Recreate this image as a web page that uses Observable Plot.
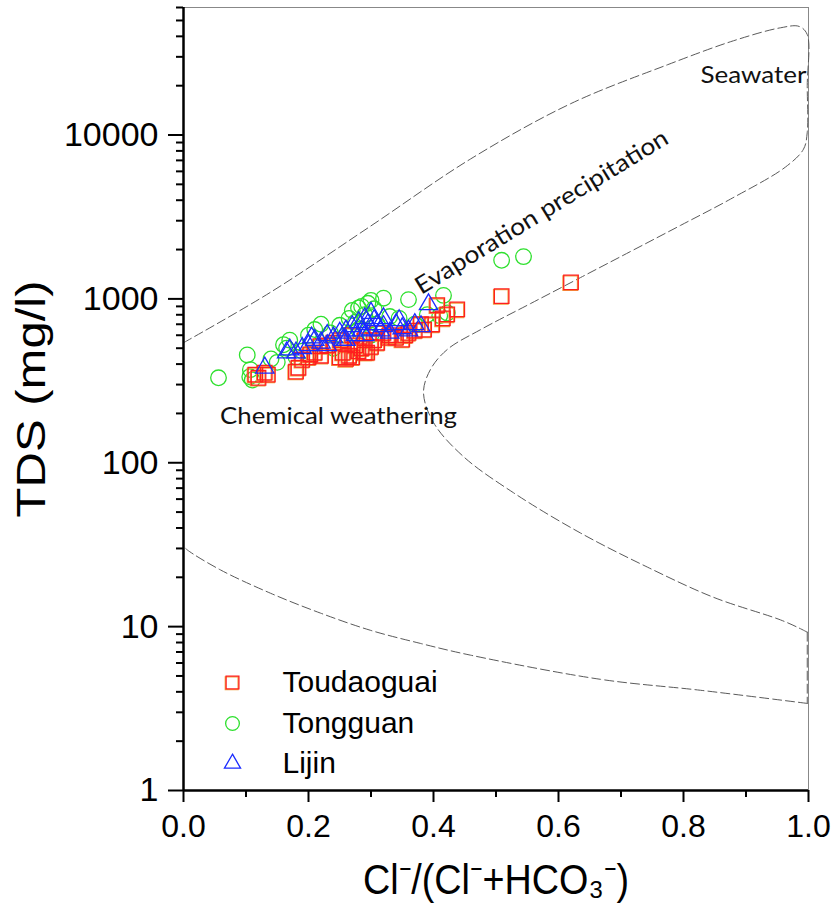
<!DOCTYPE html>
<html>
<head>
<meta charset="utf-8">
<script src="https://cdn.jsdelivr.net/npm/d3@7"></script>
<script src="https://cdn.jsdelivr.net/npm/@observablehq/plot@0.6"></script>
<style>
  body { margin: 0; background: white; }
  #chart svg { display: block; }
</style>
</head>
<body>
<div id="chart"></div>
<script>
// ---- data ----
const seriesNames = ["Toudaoguai", "Tongguan", "Lijin"];

const toudaoguaiX   = [0.115,0.12,0.13,0.135,0.18,0.184,0.19,0.2,0.203,0.21,0.219,0.22,0.23,0.24,0.25,0.251,0.255,0.26,0.265,0.27,0.27,0.275,0.28,0.285,0.29,0.29,0.294,0.3,0.305,0.31,0.31,0.32,0.328,0.33,0.34,0.35,0.355,0.36,0.37,0.38,0.385,0.398,0.406,0.415,0.422,0.438,0.509,0.62];
const toudaoguaiTDS = [345,330,355,345,360,380,425,440,458,470,515,450,520,540,440,560,470,430,450,440,600,520,480,500,470,560,470,510,560,540,620,620,580,600,580,565,600,620,640,700,650,698,915,760,804,862,1040,1262];

const tongguanX   = [0.056,0.102,0.106,0.11,0.107,0.14,0.15,0.16,0.165,0.17,0.18,0.19,0.2,0.2,0.21,0.22,0.235,0.24,0.25,0.255,0.26,0.265,0.27,0.275,0.28,0.28,0.285,0.29,0.295,0.3,0.3,0.305,0.31,0.32,0.33,0.345,0.36,0.37,0.39,0.41,0.416,0.422,0.509,0.544];
const tongguanTDS = [330,455,335,320,370,430,410,525,500,560,440,480,600,460,650,700,620,500,690,560,600,760,850,720,880,650,900,800,940,980,600,870,700,1010,780,760,990,700,800,790,1050,820,1720,1810];

const lijinX   = [0.13,0.165,0.17,0.18,0.19,0.2,0.205,0.21,0.22,0.23,0.23,0.24,0.25,0.255,0.26,0.26,0.27,0.275,0.28,0.285,0.29,0.29,0.295,0.3,0.3,0.305,0.31,0.315,0.32,0.32,0.33,0.34,0.345,0.35,0.36,0.37,0.38,0.392];
const lijinTDS = [380,470,490,470,500,520,580,560,540,600,520,580,620,560,640,560,680,600,720,640,760,600,700,820,650,740,700,640,680,760,620,700,740,660,640,700,680,925];

// Gibbs boundary (dashed envelope), by segment
const upperX   = [0.0,0.139,0.299,0.459,0.619,0.774,0.88,0.955,0.985,0.998,0.998,0.998,0.992,0.963,0.875,0.795,0.715,0.635,0.555,0.475,0.422,0.395,0.384,0.4,0.448,0.528,0.635,0.742,0.848,0.955,0.985,0.998];
const upperTDS = [540,1096,2774,7130,15500,26800,37600,45100,46000,41000,20000,10400,8200,6370,4060,2805,1944,1348,935,648,491,370,268,176,109,65.6,37.3,23.1,15.1,11,9.8,9.25];
const rightX   = [0.998,0.998];
const rightTDS = [9.25,3.4];
const lowerX   = [0.998,0.827,0.667,0.459,0.379,0.299,0.219,0.139,0.059,0.006,0.0];
const lowerTDS = [3.4,4.09,4.77,6.7,7.9,9.5,12.1,16,22.2,29.4,31];
const leftX    = [0.0,0.0];
const leftTDS  = [31,540];

const annotText  = ["Seawater","Evaporation precipitation","Chemical weathering"];
const annotX     = [0.912,0.573,0.248];
const annotTDS   = [23300,3380,191];
const annotAngle = [0,-31.5,0];
const annotWidth = [106,292,237];

const yMajor = [1,10,100,1000,10000];
const xMajor = [0,0.2,0.4,0.6,0.8,1.0];
const xMinor = [0.1,0.3,0.5,0.7,0.9];

const yTitle = "TDS (mg/l)";
const xTitle = "Cl⁻/(Cl⁻+HCO₃⁻)";

// ---- build tables ----
const zip = (xs, ys) => xs.map((x,i) => ({x, y: ys[i]}));
const toud = zip(toudaoguaiX, toudaoguaiTDS);
const tong = zip(tongguanX, tongguanTDS);
const lij  = zip(lijinX, lijinTDS);
const boundary = [
  ...zip(upperX, upperTDS).map(d => ({...d, seg:"upper"})),
  ...zip(rightX, rightTDS).map(d => ({...d, seg:"right"})),
  ...zip(lowerX, lowerTDS).map(d => ({...d, seg:"lower"})),
  ...zip(leftX, leftTDS).map(d => ({...d, seg:"left"}))
];
const annots = annotText.map((t,i) => ({t, x: annotX[i], y: annotTDS[i], a: annotAngle[i]}));
const yMinor = [];
for (const d of [1,10,100,1000,10000]) for (let k=2;k<=9;k++) if (d*k <= 60000) yMinor.push(d*k);

const RED = "#ff1f1f", ORANGE = "#f0a040", GREEN = "#2ee02e", BLUE = "#1a2bff";
const seriesStyle = [
  {symbol:"square", r:8.2, stroke:RED},
  {symbol:"circle", r:7.8, stroke:GREEN},
  {symbol:"triangle", r:6.8, stroke:BLUE}
];

const legendMarks = seriesNames.flatMap((name,i) => {
  const s = seriesStyle[i];
  const dyv = [-108,-67,-27][i];
  const m = [];
  if (i === 0) m.push(Plot.dot([name], {frameAnchor:"bottom-left", dx:48.2, dy:dyv+0.8, symbol:s.symbol, r:s.r*0.88, stroke:ORANGE, strokeWidth:1.3}));
  m.push(Plot.dot([name], {frameAnchor:"bottom-left", dx:49, dy:dyv, symbol:s.symbol, r:s.r*0.88, stroke:s.stroke, strokeWidth:1.3}));
  m.push(Plot.text([name], {frameAnchor:"bottom-left", dx:99, dy:dyv, text:d=>d, textAnchor:"start", lineAnchor:"middle", fontSize:30, fill:"black"}));
  return m;
});

const chart = Plot.plot({
  width: 834, height: 905,
  marginLeft: 183, marginRight: 26, marginTop: 7, marginBottom: 115,
  x: {domain:[0,1]},
  y: {type:"log", domain:[1,60000]},
  style: {fontFamily:"'Liberation Sans', Arial, sans-serif", background:"white", color:"black"},
  marks: [
    Plot.frame({stroke:"#888", strokeWidth:1}),
    Plot.line(boundary, {x:"x", y:"y", z:"seg", curve:"catmull-rom", stroke:"#5a5a5a", strokeWidth:1, strokeDasharray:"9,4"}),
    Plot.dot(tong, {x:"x", y:"y", symbol:"circle", r:seriesStyle[1].r, stroke:GREEN, strokeWidth:1.3}),
    Plot.dot(toud, {x:"x", y:"y", symbol:"square", r:seriesStyle[0].r, stroke:ORANGE, strokeWidth:1.3, dx:-0.8, dy:0.8}),
    Plot.dot(toud, {x:"x", y:"y", symbol:"square", r:seriesStyle[0].r, stroke:RED, strokeWidth:1.3}),
    Plot.dot(lij, {x:"x", y:"y", symbol:"triangle", r:seriesStyle[2].r, stroke:BLUE, strokeWidth:1.3}),
    Plot.text(annots, {x:"x", y:"y", text:"t", rotate:"a", fontSize:24, fontFamily:"Lato, 'Open Sans', sans-serif", fill:"#111"}),
    ...legendMarks,
    Plot.axisY({ticks:yMinor, tickSize:7, tickFormat:()=>"", label:null, strokeWidth:2}),
    Plot.axisY({ticks:yMajor, tickSize:15, tickPadding:10, fontSize:34, tickFormat:d=>String(d), label:null, strokeWidth:2}),
    Plot.axisX({ticks:xMinor, tickSize:7, tickFormat:()=>"", label:null, strokeWidth:2}),
    Plot.axisX({ticks:xMajor, tickSize:12, tickPadding:12, fontSize:32, tickFormat:d3.format(".1f"), label:null, strokeWidth:2}),
    Plot.ruleX([0], {stroke:"black", strokeWidth:2.5}),
    Plot.ruleY([1], {stroke:"black", strokeWidth:2.5}),
    Plot.text([yTitle], {frameAnchor:"left", dx:-151, rotate:-90, textAnchor:"middle", lineAnchor:"middle", text:d=>d, fontSize:40, fill:"black"}),
    Plot.text([xTitle], {frameAnchor:"bottom", dy:90, textAnchor:"middle", lineAnchor:"middle", text:d=>d, fontSize:42, fill:"black"})
  ]
});
document.getElementById("chart").appendChild(chart);

// stretch some texts to the widths they have in the original
const sel = d3.select(chart);
sel.selectAll("text").each(function() {
  const t = this.textContent;
  const i = annotText.indexOf(t);
  if (i >= 0) d3.select(this).attr("textLength", annotWidth[i]).attr("lengthAdjust", "spacingAndGlyphs");
  if (t === yTitle) d3.select(this).attr("textLength", 237).attr("lengthAdjust", "spacingAndGlyphs");
  if (t === xTitle) d3.select(this).attr("textLength", 266).attr("lengthAdjust", "spacingAndGlyphs");
});
</script>
</body>
</html>
